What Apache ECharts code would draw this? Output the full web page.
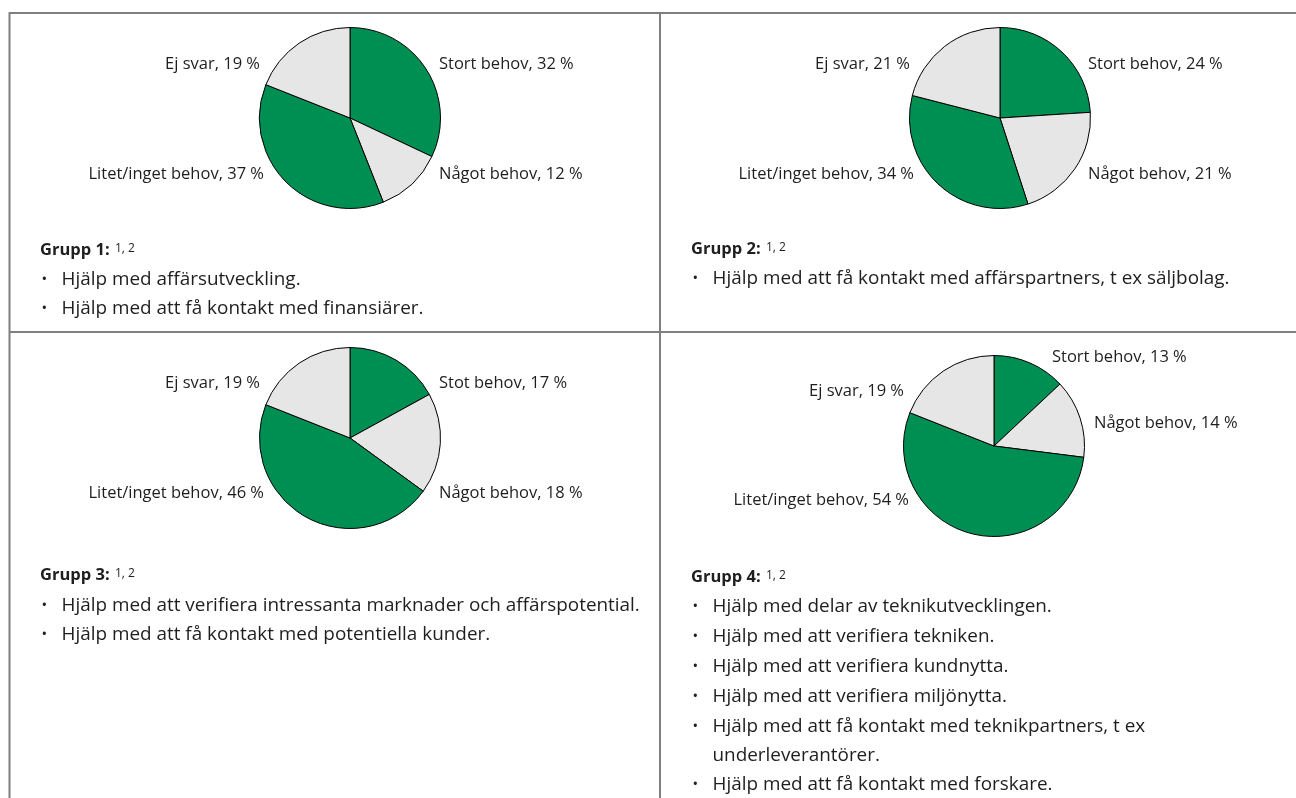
<!DOCTYPE html>
<html>
<head>
<meta charset="utf-8">
<script src="https://cdn.jsdelivr.net/npm/echarts@6/dist/echarts.min.js"></script>
<style>
  html, body { margin: 0; padding: 0; background: #fff; }
  #chart { width: 1296px; height: 798px; }
</style>
</head>
<body>
<div id="chart"></div>
<script>
// Answer categories, clockwise from twelve o'clock
const categories = ['Stort behov', 'Något behov', 'Litet/inget behov', 'Ej svar'];
const categoriesGrupp3 = ['Stot behov', 'Något behov', 'Litet/inget behov', 'Ej svar'];

// Share of respondents (%) per group
const grupp1 = [32, 12, 37, 19];
const grupp2 = [24, 21, 34, 21];
const grupp3 = [17, 18, 46, 19];
const grupp4 = [13, 14, 54, 19];

// Headings and needs listed under each pie
const headings = ['Grupp 1:', 'Grupp 2:', 'Grupp 3:', 'Grupp 4:'];
const footnoteRefs = '1, 2';
const bullets1 = ['Hjälp med affärsutveckling.', 'Hjälp med att få kontakt med finansiärer.'];
const bullets2 = ['Hjälp med att få kontakt med affärspartners, t ex säljbolag.'];
const bullets3 = ['Hjälp med att verifiera intressanta marknader och affärspotential.', 'Hjälp med att få kontakt med potentiella kunder.'];
const bullets4 = [
  'Hjälp med delar av teknikutvecklingen.',
  'Hjälp med att verifiera tekniken.',
  'Hjälp med att verifiera kundnytta.',
  'Hjälp med att verifiera miljönytta.',
  'Hjälp med att få kontakt med teknikpartners, t ex\nunderleverantörer.',
  'Hjälp med att få kontakt med forskare.'
];

const FONT = '"Open Sans", "Noto Sans", sans-serif';
const GREEN = '#008f53';
const GREY = '#e6e6e6';
const sliceColors = [GREEN, GREY, GREEN, GREY];
const TEXT = '#1e1e1e';
const RULE = '#7f7f7f';
const LINE_H = 28.5;

// Panel layout: pie centre, label anchors [x, y, align] per slice, text block origin
const panels = [
  { cats: categories, vals: grupp1, center: [350, 118],
    anchors: [[439, 64, 'left'], [439, 174, 'left'], [264, 174, 'right'], [260, 64, 'right']],
    head: [40, 250], lines: [280, 309], bullets: bullets1 },
  { cats: categories, vals: grupp2, center: [1000, 118],
    anchors: [[1088, 64, 'left'], [1088, 174, 'left'], [914, 174, 'right'], [910, 64, 'right']],
    head: [691, 249], lines: [279], bullets: bullets2 },
  { cats: categoriesGrupp3, vals: grupp3, center: [350, 438],
    anchors: [[439, 383, 'left'], [439, 493, 'left'], [264, 493, 'right'], [260, 383, 'right']],
    head: [40, 575], lines: [606, 635], bullets: bullets3 },
  { cats: categories, vals: grupp4, center: [994, 446],
    anchors: [[1052, 357, 'left'], [1094, 423, 'left'], [909, 500, 'right'], [904, 391, 'right']],
    head: [691, 577], lines: [607, 637, 667, 697, 727, 785], bullets: bullets4 }
];

const series = panels.map(p => ({
  type: 'pie',
  center: p.center,
  radius: 90.5,
  startAngle: 90,
  clockwise: true,
  silent: true,
  animation: false,
  avoidLabelOverlap: false,
  color: sliceColors,
  itemStyle: { borderColor: '#000', borderWidth: 1 },
  emphasis: { disabled: true, scale: false },
  label: {
    show: true,
    position: 'outside',
    formatter: '{b}, {c} %',
    fontFamily: FONT,
    fontSize: 16.5,
    color: TEXT
  },
  labelLine: { show: false },
  labelLayout: params => {
    const a = p.anchors[params.dataIndex];
    return { x: a[0], y: a[1], align: a[2], verticalAlign: 'middle' };
  },
  data: p.cats.map((name, i) => ({ name: name, value: p.vals[i] }))
}));

// Frame rules
const graphics = [
  { type: 'line', shape: { x1: 9.5, y1: 13, x2: 1296, y2: 13 }, style: { stroke: RULE, lineWidth: 2 } },
  { type: 'line', shape: { x1: 9.5, y1: 12, x2: 9.5, y2: 798 }, style: { stroke: RULE, lineWidth: 2 } },
  { type: 'line', shape: { x1: 660, y1: 12, x2: 660, y2: 798 }, style: { stroke: RULE, lineWidth: 2 } },
  { type: 'line', shape: { x1: 9.5, y1: 332, x2: 1296, y2: 332 }, style: { stroke: RULE, lineWidth: 2 } }
];

// Headings, footnote references and bullet lists
panels.forEach((p, k) => {
  graphics.push({
    type: 'text', x: p.head[0], y: p.head[1],
    style: { text: headings[k], font: 'bold 16.5px ' + FONT, fill: TEXT, verticalAlign: 'middle' }
  });
  graphics.push({
    type: 'text', x: p.head[0] + 75, y: p.head[1] - 1,
    style: { text: footnoteRefs, font: '12px ' + FONT, fill: TEXT, verticalAlign: 'middle' }
  });
  p.bullets.forEach((b, i) => {
    const y = p.lines[i];
    graphics.push({
      type: 'text', x: p.head[0] + 1.5, y: y,
      style: { text: '•', font: '15px ' + FONT, fill: TEXT, verticalAlign: 'middle' }
    });
    graphics.push({
      type: 'text', x: p.head[0] + 21.5, y: y - LINE_H / 2,
      style: { text: b, font: '18.9px ' + FONT, fill: TEXT, verticalAlign: 'top', lineHeight: LINE_H }
    });
  });
});

const chart = echarts.init(document.getElementById('chart'), null, { renderer: 'canvas' });
chart.setOption({
  backgroundColor: '#fff',
  animation: false,
  series: series,
  graphic: graphics
});
</script>
</body>
</html>
